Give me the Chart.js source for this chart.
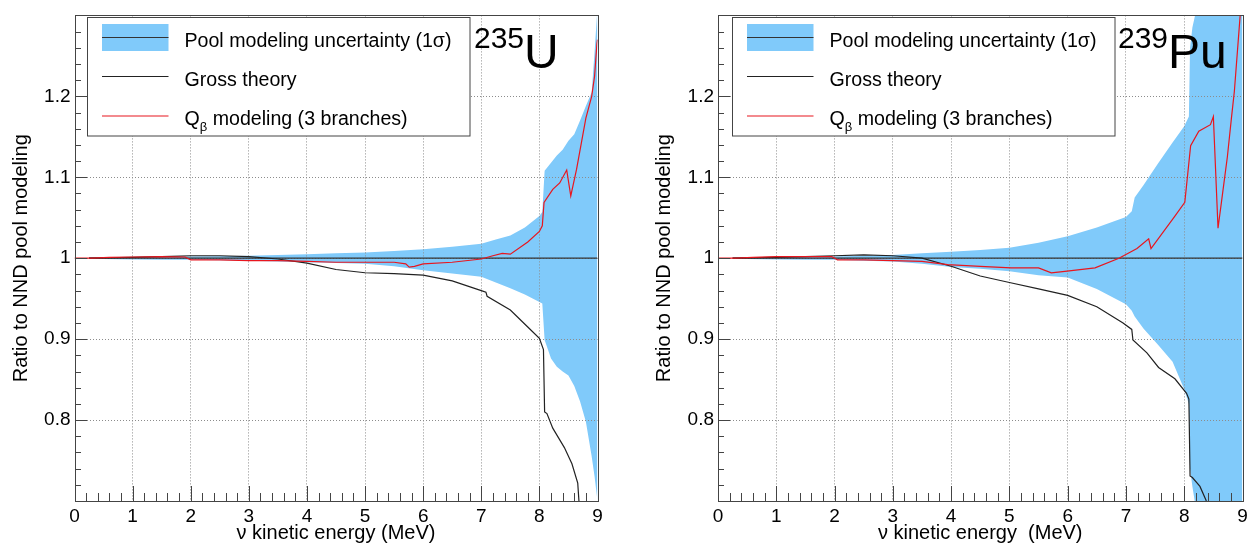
<!DOCTYPE html>
<html>
<head>
<meta charset="utf-8">
<script src="https://cdn.jsdelivr.net/npm/chart.js@4.4.1/dist/chart.umd.min.js"></script>
<style>
  body { margin: 0; background: #fff; width: 1253px; height: 546px; overflow: hidden; position: relative; }
  canvas { position: absolute; top: 0; }
</style>
</head>
<body>
<canvas id="chartU" width="627" height="546" style="left:0"></canvas>
<canvas id="chartPu" width="626" height="546" style="left:627px"></canvas>
<script>
// Axis ticks
var xTickValues = [0, 1, 2, 3, 4, 5, 6, 7, 8, 9];
var xTickLabels = ['0', '1', '2', '3', '4', '5', '6', '7', '8', '9'];
var yTickValues = [0.8, 0.9, 1.0, 1.1, 1.2];
var yTickLabels = ['0.8', '0.9', '1', '1.1', '1.2'];
var xMinorStep = 0.2;
var yMinorStep = 0.02;

var legendLabels = ['Pool modeling uncertainty (1\u03c3)', 'Gross theory', 'Q', '\u03b2', ' modeling (3 branches)'];

// 235U : pool modeling uncertainty band (ratio)
var uBandX  = [0.25, 0.5, 1, 1.5, 2, 2.5, 3, 3.5, 4, 4.5, 5, 5.5, 6, 6.5, 7, 7.25, 7.5, 7.75, 8.0, 8.05, 8.09, 8.2, 8.3, 8.4, 8.5, 8.6, 8.7, 8.8, 8.9, 8.95, 9.0];
var uBandUp = [1.0005, 1.001, 1.0015, 1.002, 1.002, 1.0025, 1.003, 1.004, 1.005, 1.006, 1.007, 1.009, 1.011, 1.014, 1.018, 1.023, 1.028, 1.038, 1.052, 1.057, 1.108, 1.118, 1.127, 1.134, 1.145, 1.153, 1.17, 1.188, 1.205, 1.255, 1.31];
var uBandLo = [0.9995, 0.999, 0.9985, 0.998, 0.998, 0.9975, 0.997, 0.996, 0.995, 0.994, 0.993, 0.99, 0.985, 0.981, 0.977, 0.97, 0.963, 0.955, 0.946, 0.944, 0.899, 0.876, 0.866, 0.86, 0.855, 0.842, 0.823, 0.798, 0.755, 0.73, 0.70];

// 235U : Gross theory
var uGrossX = [0.25, 0.5, 1, 1.5, 2, 2.5, 3, 3.5, 4, 4.5, 5, 5.5, 6, 6.5, 7, 7.08, 7.1, 7.5, 7.8, 8.0, 8.07, 8.09, 8.13, 8.23, 8.33, 8.43, 8.56, 8.66, 8.69];
var uGrossY = [1.0, 1.0005, 1.001, 1.002, 1.003, 1.003, 1.002, 0.999, 0.994, 0.986, 0.982, 0.981, 0.979, 0.972, 0.96, 0.958, 0.953, 0.936, 0.915, 0.901, 0.887, 0.81, 0.808, 0.79, 0.778, 0.766, 0.746, 0.722, 0.69];

// 235U : Q_beta modeling (3 branches)
var uQbX = [0, 0.3, 0.6, 1, 1.5, 1.9, 2.0, 2.5, 3, 3.5, 4, 4.5, 5, 5.5, 5.7, 5.76, 5.85, 6, 6.5, 7, 7.2, 7.36, 7.5, 7.8, 8.0, 8.05, 8.08, 8.23, 8.35, 8.47, 8.54, 8.64, 8.8, 8.9, 8.95, 8.99, 9.0];
var uQbY = [1.0, 1.0, 1.001, 1.0015, 1.002, 1.0015, 0.998, 0.998, 0.997, 0.997, 0.996, 0.995, 0.995, 0.995, 0.993, 0.989, 0.99, 0.993, 0.995, 0.999, 1.003, 1.006, 1.005, 1.02, 1.033, 1.04, 1.069, 1.085, 1.093, 1.109, 1.077, 1.11, 1.173, 1.2, 1.225, 1.265, 1.27];

// 239Pu : pool modeling uncertainty band (ratio)
var puBandX  = [0.25, 0.5, 1, 1.5, 2, 2.5, 3, 3.5, 4, 4.5, 5, 5.5, 6, 6.5, 7, 7.1, 7.15, 7.3, 7.55, 7.8, 8.0, 8.08, 8.1, 8.14, 8.18, 8.2, 8.3, 9.0];
var puBandUp = [1.0005, 1.001, 1.0015, 1.002, 1.002, 1.003, 1.004, 1.006, 1.008, 1.010, 1.013, 1.019, 1.027, 1.038, 1.051, 1.058, 1.075, 1.09, 1.117, 1.143, 1.163, 1.175, 1.26, 1.285, 1.298, 1.305, 1.38, 1.5];
var puBandLo = [0.9995, 0.999, 0.9985, 0.998, 0.998, 0.997, 0.996, 0.993, 0.989, 0.987, 0.984, 0.979, 0.976, 0.962, 0.943, 0.935, 0.928, 0.913, 0.893, 0.872, 0.838, 0.82, 0.74, 0.718, 0.70, 0.69, 0.65, 0.6];

// 239Pu : Gross theory
var puGrossX = [0.25, 0.5, 1, 1.5, 2, 2.5, 3, 3.5, 4, 4.5, 5, 5.5, 6, 6.5, 6.95, 7.1, 7.12, 7.36, 7.56, 7.84, 8.04, 8.08, 8.1, 8.14, 8.27, 8.38];
var puGrossY = [1.0, 1.0005, 1.001, 1.002, 1.003, 1.004, 1.003, 1.0, 0.99, 0.978, 0.97, 0.962, 0.954, 0.94, 0.92, 0.912, 0.899, 0.883, 0.865, 0.851, 0.833, 0.826, 0.731, 0.729, 0.718, 0.70];

// 239Pu : Q_beta modeling (3 branches)
var puQbX = [0, 0.3, 0.6, 1, 1.5, 1.95, 2.05, 2.5, 3, 3.5, 3.94, 4.5, 5.03, 5.5, 5.72, 5.99, 6.47, 6.88, 7.19, 7.39, 7.43, 7.84, 8.01, 8.11, 8.25, 8.45, 8.5, 8.58, 8.66, 8.74, 8.81, 8.86, 8.96];
var puQbY = [1.0, 1.0, 1.001, 1.002, 1.002, 1.002, 0.998, 0.998, 0.997, 0.996, 0.992, 0.99, 0.988, 0.988, 0.982, 0.984, 0.988, 1.0, 1.012, 1.024, 1.012, 1.052, 1.069, 1.139, 1.157, 1.165, 1.175, 1.037, 1.081, 1.125, 1.173, 1.206, 1.30];

var FONT = '"Liberation Sans", Arial, Helvetica, sans-serif';
var BAND_BLUE = 'rgb(128, 202, 250)';
var RED = '#e8161e';
var FRAME = '#444';

function pts(xs, ys)
{
    return xs.map(function(x, i) { return {x: x, y: ys[i]}; });
}

// ROOT-like frame: box, inward ticks, legend and isotope label
var rootFrame = {
    id: 'rootFrame',
    afterDraw: function(chart, args, opts) {
        var ctx = chart.ctx, a = chart.chartArea;
        var xs = chart.scales.x, ys = chart.scales.y;
        var i, px, py, len;
        ctx.save();

        // frame
        ctx.strokeStyle = FRAME;
        ctx.lineWidth = 1;
        ctx.strokeRect(Math.round(a.left) + 0.5, Math.round(a.top) + 0.5,
                       Math.round(a.right) - Math.round(a.left), Math.round(a.bottom) - Math.round(a.top));

        // ticks pointing inside
        ctx.beginPath();
        var nx = Math.round((xs.max - xs.min) / xMinorStep);
        for (i = 1; i < nx; i++) {
            px = Math.round(xs.getPixelForValue(xs.min + i * xMinorStep)) + 0.5;
            len = (i % 5 == 0) ? 15 : 8;
            ctx.moveTo(px, Math.round(a.bottom));
            ctx.lineTo(px, Math.round(a.bottom) - len);
        }
        var ny = Math.round((ys.max - ys.min) / yMinorStep);
        for (i = 1; i < ny; i++) {
            py = Math.round(ys.getPixelForValue(ys.min + i * yMinorStep)) + 0.5;
            len = (i % 5 == 0) ? 12 : 6;
            ctx.moveTo(Math.round(a.left), py);
            ctx.lineTo(Math.round(a.left) + len, py);
        }
        ctx.stroke();

        // legend box
        var bx = opts.legendX, by = 17.5, bw = 382.5, bh = 118.5;
        ctx.fillStyle = '#fff';
        ctx.fillRect(bx, by, bw, bh);
        ctx.strokeRect(bx, by, bw, bh);

        var sx = bx + 14.5, sw = 66.5, tx = bx + 97;
        ctx.fillStyle = BAND_BLUE;
        ctx.fillRect(sx, 24, sw, 27);
        ctx.lineWidth = 1.2;
        ctx.strokeStyle = '#333';
        ctx.beginPath(); ctx.moveTo(sx, 37.5); ctx.lineTo(sx + sw, 37.5); ctx.stroke();
        ctx.strokeStyle = '#222';
        ctx.beginPath(); ctx.moveTo(sx, 76.5); ctx.lineTo(sx + sw, 76.5); ctx.stroke();
        ctx.strokeStyle = RED;
        ctx.beginPath(); ctx.moveTo(sx, 116); ctx.lineTo(sx + sw, 116); ctx.stroke();

        ctx.fillStyle = '#000';
        ctx.textBaseline = 'alphabetic';
        ctx.textAlign = 'left';
        ctx.font = '19.6px ' + FONT;
        ctx.fillText(legendLabels[0], tx, 47);
        ctx.fillText(legendLabels[1], tx, 86);
        ctx.fillText(legendLabels[2], tx, 125);
        var qw = ctx.measureText(legendLabels[2]).width;
        ctx.font = '13px ' + FONT;
        ctx.fillText(legendLabels[3], tx + qw, 131);
        var bw2 = ctx.measureText(legendLabels[3]).width;
        ctx.font = '19.6px ' + FONT;
        ctx.fillText(legendLabels[4], tx + qw + bw2, 125);

        // isotope label
        ctx.font = '30px ' + FONT;
        ctx.fillText(opts.sup, opts.labelX, 47.5);
        var supW = ctx.measureText(opts.sup).width;
        ctx.font = '48px ' + FONT;
        ctx.fillText(opts.main, opts.labelX + supW, 67.5);

        ctx.restore();
    }
};

function makeChart(id, bandX, bandUp, bandLo, grossX, grossY, qbX, qbY, layout, xTitle)
{
    var ctx = document.getElementById(id).getContext('2d');
    var config = {
        type: 'line',
        data: {
            datasets: [
                { label: 'Qb', data: pts(qbX, qbY), borderColor: RED, borderWidth: 1.2, pointRadius: 0, fill: false },
                { label: 'Gross', data: pts(grossX, grossY), borderColor: '#222', borderWidth: 1.2, pointRadius: 0, fill: false },
                { label: 'Pool', data: pts([bandX[0], 9], [1, 1]), borderColor: '#333', borderWidth: 1.2, pointRadius: 0, fill: false },
                { label: 'up', data: pts(bandX, bandUp), borderWidth: 0, pointRadius: 0, backgroundColor: BAND_BLUE, fill: '+1' },
                { label: 'lo', data: pts(bandX, bandLo), borderWidth: 0, pointRadius: 0, fill: false }
            ]
        },
        options: {
            responsive: false,
            animation: false,
            events: [],
            layout: { padding: layout.padding },
            plugins: {
                legend: { display: false },
                tooltip: { enabled: false },
                filler: { drawTime: 'beforeDraw' },
                rootFrame: { legendX: layout.legendX, labelX: layout.labelX, sup: layout.sup, main: layout.main }
            },
            scales: {
                x: {
                    type: 'linear', min: 0, max: 9,
                    afterFit: function(s) { s.height = 45; },
                    afterBuildTicks: function(s) { s.ticks = xTickValues.map(function(v) { return {value: v}; }); },
                    ticks: {
                        padding: 4, maxRotation: 0, autoSkip: false, color: '#000',
                        font: { family: FONT, size: 19 },
                        callback: function(v, i) { return xTickLabels[i]; }
                    },
                    grid: {
                        drawTicks: false, lineWidth: 1,
                        color: function(c) { return (c.tick && (c.tick.value == 0 || c.tick.value == 9)) ? 'rgba(0,0,0,0)' : '#8c8c8c'; }
                    },
                    border: { display: false, dash: [1, 2] },
                    title: { display: true, text: xTitle, color: '#000', font: { family: FONT, size: 20 }, padding: { top: 0, bottom: 1 } }
                },
                y: {
                    type: 'linear', min: 0.7, max: 1.3,
                    afterFit: function(s) { s.width = 74.5; },
                    afterBuildTicks: function(s) { s.ticks = yTickValues.map(function(v) { return {value: v}; }); },
                    ticks: {
                        padding: 4, color: '#000',
                        font: { family: FONT, size: 19 },
                        callback: function(v, i) { return yTickLabels[i]; }
                    },
                    grid: { drawTicks: false, lineWidth: 1, color: '#8c8c8c' },
                    border: { display: false, dash: [1, 2] },
                    title: { display: true, text: 'Ratio to NND pool modeling', color: '#000', font: { family: FONT, size: 20 }, padding: { top: 9, bottom: 0 } }
                }
            }
        },
        plugins: [rootFrame]
    };
    return new Chart(ctx, config);
}

makeChart('chartU', uBandX, uBandUp, uBandLo, uGrossX, uGrossY, uQbX, uQbY,
    { padding: { left: 0, right: 29.5, top: 5, bottom: 0 }, legendX: 87.5, labelX: 474, sup: '235', main: 'U' },
    '\u03bd kinetic energy (MeV)');

makeChart('chartPu', puBandX, puBandUp, puBandLo, puGrossX, puGrossY, puQbX, puQbY,
    { padding: { left: 16.5, right: 10.5, top: 5, bottom: 0 }, legendX: 105.5, labelX: 491, sup: '239', main: 'Pu' },
    '\u03bd kinetic energy  (MeV)');
</script>
</body>
</html>
